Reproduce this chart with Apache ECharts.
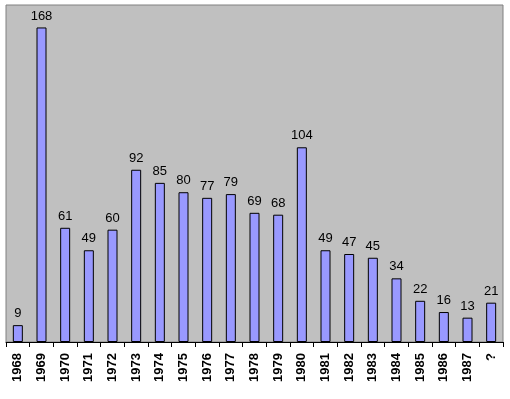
<!DOCTYPE html>
<html>
<head>
<meta charset="utf-8">
<script src="https://cdn.jsdelivr.net/npm/echarts@6/dist/echarts.min.js"></script>
<style>
html,body{margin:0;padding:0;background:#fff;}
#main{width:510px;height:399px;}
</style>
</head>
<body>
<div id="main"></div>
<script>
// 年份
var years = ['1968','1969','1970','1971','1972','1973','1974','1975','1976','1977','1978','1979','1980','1981','1982','1983','1984','1985','1986','1987','?'];
// 数量
var counts = [9,168,61,49,60,92,85,80,77,79,69,68,104,49,47,45,34,22,16,13,21];

var option = {
    animation:false,
    grid:{
        left:6,
        right:7,
        top:5,
        bottom:57,
        show:true,
        backgroundColor:'#C0C0C0',
        borderColor:'#808080',
        borderWidth:1
    },
    xAxis:{
        type:'category',
        data:years,
        axisLine:{lineStyle:{color:'#000',width:1}},
        axisTick:{show:true,length:5,lineStyle:{color:'#000'}},
        axisLabel:{
            rotate:90,
            interval:0,
            margin:11,
            color:'#000',
            fontFamily:'Arial, Liberation Sans, sans-serif',
            fontWeight:'bold',
            fontSize:13
        }
    },
    yAxis:{
        type:'value',
        min:0,
        max:180,
        show:false,
        splitLine:{show:false}
    },
    series:[{
        type:'bar',
        data:counts,
        barWidth:10,
        itemStyle:{
            color:'#9999FF',
            borderColor:'#000',
            borderWidth:1
        },
        label:{
            show:true,
            position:'top',
            distance:5,
            color:'#000',
            fontFamily:'Arial, Liberation Sans, sans-serif',
            fontSize:13
        }
    }]
};

var myChart = echarts.init(document.getElementById('main'));
myChart.setOption(option);
</script>
</body>
</html>
